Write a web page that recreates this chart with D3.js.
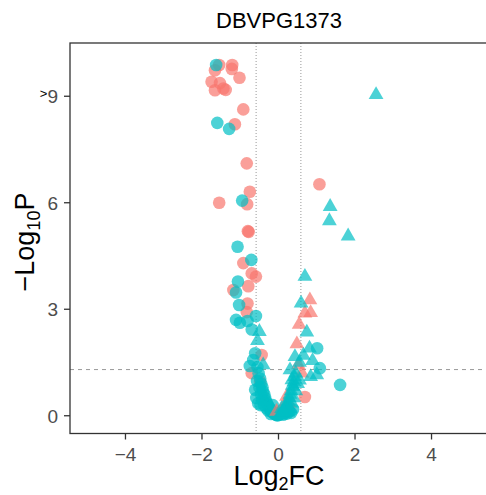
<!DOCTYPE html>
<html>
<head>
<meta charset="utf-8">
<script src="https://cdn.jsdelivr.net/npm/d3@7"></script>
<style>
  body { margin: 0; background: #fff; }
  text { font-family: "Liberation Sans", Arial, sans-serif; }
</style>
</head>
<body>
<svg id="chart" width="486" height="495"></svg>
<script>
// data: [log2FC, -log10P]
const redCircles = [
  [-1.55, 9.88], [-1.21, 9.88], [-1.22, 9.77], [-1.66, 9.73], [-1.02, 9.52],
  [-1.75, 9.41], [-1.53, 9.37], [-1.66, 9.17], [-1.44, 9.22], [-1.38, 9.18],
  [-0.92, 8.63], [-1.14, 8.21], [-0.83, 7.11], [-0.75, 6.31], [-1.55, 6.00],
  [-0.82, 5.96], [-0.78, 5.18], [-0.80, 5.20], [-0.92, 4.30], [-0.70, 4.01],
  [-0.59, 3.92], [-0.79, 3.65], [-1.18, 3.54], [-0.81, 3.16], [-0.83, 2.92],
  [-0.44, 1.71], [-0.70, 1.20], [-0.48, 0.96], [1.07, 6.52], [0.69, 0.53],
  [0.10, 0.15]
];
const cyanCircles = [
  [-1.63, 9.88], [-1.60, 8.25], [-1.29, 8.08], [-0.95, 6.06], [-1.07, 4.76],
  [-0.71, 4.39], [-1.06, 3.78], [-1.11, 3.47], [-1.03, 3.12], [-0.59, 2.81],
  [-1.11, 2.70], [-1.01, 2.62], [-0.81, 2.67], [-0.70, 2.43], [-0.61, 1.76],
  [-0.66, 1.57], [-0.75, 1.40], [-0.55, 1.37], [-0.61, 0.73], [-0.53, 0.35],
  [1.01, 1.90], [1.08, 1.34], [1.61, 0.87],
  [-0.52, 1.20], [-0.48, 1.05], [-0.45, 0.90], [-0.42, 0.80], [-0.40, 0.68],
  [-0.37, 0.60], [-0.35, 0.50], [-0.33, 0.42], [-0.30, 0.35], [-0.28, 0.30],
  [-0.25, 0.25], [-0.22, 0.20], [-0.20, 0.15], [-0.18, 0.12], [-0.15, 0.10],
  [-0.12, 0.08], [-0.10, 0.05], [-0.08, 0.04], [-0.05, 0.02], [-0.03, 0.01],
  [-0.38, 0.30], [-0.32, 0.22], [-0.27, 0.15], [-0.43, 0.45], [-0.46, 0.62],
  [-0.50, 0.80], [-0.56, 0.98], [-0.58, 0.50], [-0.47, 0.30], [-0.20, 0.05],
  [-0.15, 0.30], [0.00, 0.02], [0.05, 0.05], [0.12, 0.03], [0.18, 0.10],
  [0.22, 0.06], [0.28, 0.12], [0.33, 0.08], [0.38, 0.18]
];
const redTriangles = [
  [0.82, 3.26], [0.69, 2.89], [0.84, 2.90], [0.54, 2.57], [0.48, 2.02],
  [0.52, 1.43], [0.61, 1.20], [0.21, 0.54], [0.26, 0.35], [-0.05, 0.12],
  [0.15, 0.30]
];
const cyanTriangles = [
  [2.55, 9.04], [1.35, 5.89], [1.33, 5.49], [1.82, 5.06], [0.69, 3.92],
  [0.59, 3.17], [0.74, 2.35], [0.81, 1.90], [0.43, 1.66], [0.89, 1.55],
  [1.00, 1.15], [0.84, 1.10], [0.30, 1.29], [0.35, 1.01], [0.39, 0.82],
  [-0.50, 2.37], [-0.55, 2.11], [-0.40, 1.43],
  [0.02, 0.01], [0.05, 0.03], [0.08, 0.05], [0.10, 0.08], [0.12, 0.10],
  [0.15, 0.15], [0.18, 0.20], [0.20, 0.25], [0.22, 0.32], [0.25, 0.40],
  [0.28, 0.50], [0.30, 0.60], [0.33, 0.70], [0.36, 0.85], [0.40, 0.95],
  [0.42, 1.10], [0.45, 1.20], [0.55, 1.50], [0.65, 1.70], [0.30, 0.20],
  [0.35, 0.35], [0.25, 0.10], [0.40, 0.50], [0.45, 0.70], [0.50, 0.90],
  [0.55, 1.00], [0.08, 0.20]
];
const xTicks = [-4, -2, 0, 2, 4];
const yTicks = [0, 3, 6, 9];
const yTickLabels = ["0", "3", "6", ">9"];
const fcCut = Math.log2(1.5);
const pCut = -Math.log10(0.05);

const svg = d3.select("#chart");
const x = d3.scaleLinear().domain([-5.45, 5.45]).range([70, 487]);
const y = d3.scaleLinear().domain([-0.5, 10.5]).range([433.5, 43]);

const RED = "#F8766D", CYAN = "#00BFC4";

// title
svg.append("text").attr("x", 279).attr("y", 28).attr("text-anchor", "middle")
  .attr("font-size", 22).attr("fill", "#000").text("DBVPG1373");

// threshold lines
const lines = svg.append("g");
[-fcCut, fcCut].forEach(v => {
  lines.append("line").attr("x1", x(v)).attr("x2", x(v)).attr("y1", 43).attr("y2", 433.5)
    .attr("stroke", "#999").attr("stroke-width", 1).attr("stroke-dasharray", "1,2");
});
lines.append("line").attr("x1", 70).attr("x2", 487).attr("y1", y(pCut)).attr("y2", y(pCut))
  .attr("stroke", "#999").attr("stroke-width", 1).attr("stroke-dasharray", "4,4");

// points
const pts = svg.append("g");
function drawSet(data, type, size, color) {
  pts.selectAll(null).data(data).enter().append("path")
    .attr("d", d3.symbol().type(type).size(size))
    .attr("transform", d => `translate(${x(d[0])},${y(d[1])})`)
    .attr("fill", color).attr("fill-opacity", 0.7);
}
drawSet(redCircles, d3.symbolCircle, 125, RED);
drawSet(cyanCircles, d3.symbolCircle, 125, CYAN);
drawSet(redTriangles, d3.symbolTriangle, 95, RED);
drawSet(cyanTriangles, d3.symbolTriangle, 95, CYAN);

// panel border
svg.append("rect").attr("x", 70).attr("y", 43).attr("width", 420).attr("height", 390.5)
  .attr("fill", "none").attr("stroke", "#333").attr("stroke-width", 1.3);

// x axis
const xa = svg.append("g").attr("transform", "translate(0,433.5)");
xTicks.forEach(t => {
  xa.append("line").attr("x1", x(t)).attr("x2", x(t)).attr("y1", 0).attr("y2", 6)
    .attr("stroke", "#333").attr("stroke-width", 1.3);
  xa.append("text").attr("x", x(t)).attr("y", 27.5).attr("text-anchor", "middle")
    .attr("font-size", 19).attr("fill", "#4D4D4D").text(t < 0 ? "\u2212" + Math.abs(t) : t);
});

// y axis
const ya = svg.append("g").attr("transform", "translate(70,0)");
yTicks.forEach((t, i) => {
  ya.append("line").attr("x1", -6).attr("x2", 0).attr("y1", y(t)).attr("y2", y(t))
    .attr("stroke", "#333").attr("stroke-width", 1.3);
  const lab = ya.append("text").attr("x", -12).attr("y", y(t) + 7).attr("text-anchor", "end")
    .attr("font-size", 19).attr("fill", "#4D4D4D");
  const s = yTickLabels[i];
  if (s.startsWith(">")) {
    lab.append("tspan").attr("font-size", 13).attr("dy", -5).attr("fill", "#000").text(">");
    lab.append("tspan").attr("dy", 5).text(s.slice(1));
  } else lab.text(s);
});

// axis titles
const xt = svg.append("text").attr("x", 279).attr("y", 485).attr("text-anchor", "middle")
  .attr("font-size", 27).attr("fill", "#000");
xt.append("tspan").text("Log");
xt.append("tspan").attr("font-size", 18).attr("dy", 5).text("2");
xt.append("tspan").attr("dy", -5).text("FC");

const yt = svg.append("text").attr("transform", "translate(34,242) rotate(-90)")
  .attr("text-anchor", "middle").attr("font-size", 27).attr("fill", "#000");
yt.append("tspan").text("\u2212Log");
yt.append("tspan").attr("font-size", 18).attr("dy", 6).text("10");
yt.append("tspan").attr("dy", -6).text("P");
</script>
</body>
</html>
